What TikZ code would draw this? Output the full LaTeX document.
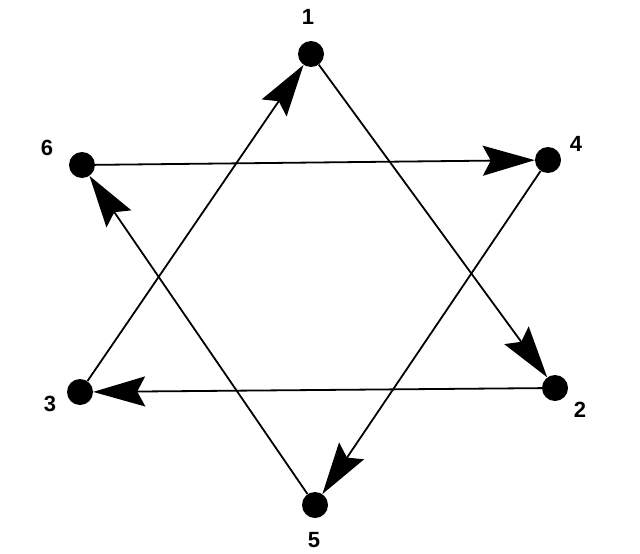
\documentclass[tikz,border=0pt]{standalone}
\usepackage{fontspec}
\setsansfont{Liberation Sans}
\usepackage{tikz}
\usetikzlibrary{arrows.meta}
\tikzset{
  vertex/.style={circle, fill=black, inner sep=0pt, minimum size=26pt},
  vlabel/.style={font=\sffamily\bfseries\fontsize{22}{25}\selectfont, inner sep=0pt},
  edge/.style={line width=1.8pt, -{Stealth[length=52pt, width=30pt, inset=8pt]}}
}

\begin{document}
\begin{tikzpicture}[x=1pt, y=-1pt]
        \useasboundingbox (0,0) rectangle (640,554);
        \node[vertex] (v1) at (311,54) {};
        \node[vertex] (v4) at (548,160) {};
        \node[vertex] (v2) at (555,388) {};
        \node[vertex] (v5) at (315,505) {};
        \node[vertex] (v3) at (80,392) {};
        \node[vertex] (v6) at (82,165) {};
        \node[vlabel] (l1) at (308,17) {1};
        \node[vlabel] (l4) at (576,144) {4};
        \node[vlabel] (l2) at (580,410) {2};
        \node[vlabel] (l5) at (314,540) {5};
        \node[vlabel] (l3) at (50,404) {3};
        \node[vlabel] (l6) at (47,148) {6};
        % first triangle
        \draw[edge] (v1) -- (v2);
        \draw[edge] (v2) -- (v3);
        \draw[edge] (v3) -- (v1);
        % second triangle
        \draw[edge] (v6) -- (v4);
        \draw[edge] (v4) -- (v5);
        \draw[edge] (v5) -- (v6);
      \end{tikzpicture}
\end{document}
